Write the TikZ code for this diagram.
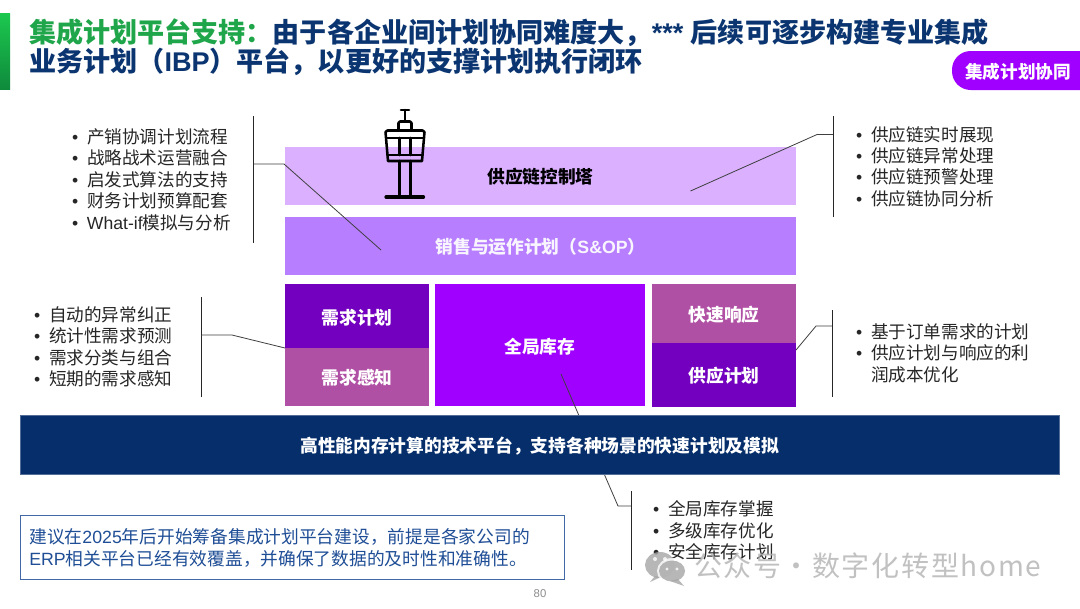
\documentclass[tikz,border=0pt]{standalone}
\usepackage{fontspec}
\setmainfont{Liberation Sans}
\newfontfamily\cjk{Noto Sans CJK SC}
\newfontfamily\lat{Liberation Sans}
\definecolor{navy}{HTML}{062E6B}
\definecolor{titleblue}{HTML}{0B3570}
\definecolor{titlegreen}{HTML}{20A64A}
\definecolor{barhigh}{HTML}{1CC84F}
\definecolor{barlow}{HTML}{0F8A3C}
\definecolor{towerpale}{HTML}{DAB0FF}
\definecolor{sopviolet}{HTML}{B77FFF}
\definecolor{deeppurple}{HTML}{7300BF}
\definecolor{orchid}{HTML}{B050A5}
\definecolor{vivid}{HTML}{A000FF}
\definecolor{noteblue}{HTML}{1F4E96}
\definecolor{inkgrey}{HTML}{262626}
\newcommand\bl[1]{\makebox[11.25pt][l]{\lat\textbullet}#1}
\newcommand\nudge[2][0.8pt]{\raisebox{-#1}[0.88em][0.12em]{#2}}
\tikzset{
  wh/.style 2 args={minimum width=#1*0.75pt,minimum height=#2*0.75pt},
  block/.style={rectangle,inner sep=0pt,outer sep=0pt,text=white,font=\cjk\bfseries\fontsize{13.3}{16}\selectfont},
  listing/.style={anchor=west,inner sep=0pt,outer sep=0pt,align=left,text=inkgrey,font=\cjk\fontsize{13.2}{16.1}\selectfont},
  bracket/.style={draw=black!85,line width=0.75pt},
  leader/.style={draw=black!75,line width=0.6pt},
  towerline/.style={draw=black,line width=1.9pt,line cap=round,line join=round},
}
\begin{document}
\begin{tikzpicture}[x=0.75pt,y=-0.75pt]
\useasboundingbox (0,0) rectangle (1080,608);
\fill[white] (0,0) rectangle (1080,608);

% title
\shade[top color=barhigh,bottom color=barlow] (0,13) rectangle (10,89);
\node[anchor=west,inner sep=0pt,align=left,text=titleblue,font=\cjk\bfseries\fontsize{20.3}{22}\selectfont] (title) at (29,47.5)
  {{\color{titlegreen}集成计划平台支持：}由于各企业间计划协同难度大，{\lat *** }后续可逐步构建专业集成\\业务计划（{\lat IBP}）平台，以更好的支撑计划执行闭环};
\fill[vivid,rounded corners=14pt] (952,51) rectangle (1120,90);
\node[text=white,inner sep=0pt,font=\cjk\bfseries\fontsize{13.2}{16}\selectfont] (tag) at (1018,72) {集成计划协同};

% stacked blocks
\node[block,fill=towerpale,text=black,wh={511}{58}] (tower) at (540.5,176) {\nudge{供应链控制塔}};
\node[block,fill=sopviolet,text=white!92!sopviolet,wh={511}{58}] (sop) at (540.5,246) {\nudge{销售与运作计划（{\lat S\&OP}）}};
\node[block,fill=deeppurple,wh={144}{64}] (demand) at (357,316) {\nudge[1.5pt]{需求计划}};
\node[block,fill=orchid,wh={144}{58}] (sense) at (357,377) {\nudge{需求感知}};
\node[block,fill=vivid,wh={209.5}{122}] (stock) at (539.8,345) {\nudge[1.5pt]{全局库存}};
\node[block,fill=orchid,wh={144}{59}] (quick) at (724,313.5) {\nudge{快速响应}};
\node[block,fill=deeppurple,wh={144}{64}] (supply) at (724,375) {\nudge{供应计划}};

% tower icon
\begin{scope}[towerline]
  \draw (401,110) -- (409,110) (405,110) -- (405,121);
  \draw (398.5,130) -- (398.5,123) -- (400,121.5) -- (410,121.5) -- (411.5,123) -- (411.5,130);
  \draw (388,161) -- (385.5,132) -- (387.5,130.5) -- (422.5,130.5) -- (424.5,132) -- (422,161) -- cycle;
  \draw (387,138) -- (423,138) (387.5,155) -- (422.5,155);
  \draw (399.5,138) -- (399.5,155) (410.5,138) -- (410.5,155);
  \draw (399.5,161) -- (399.5,197) (410.5,161) -- (410.5,197);
  \draw[line width=2.4pt] (386,197) -- (423.5,197);
\end{scope}

% brackets and leaders
\coordinate (b1t) at (253.5,116); \coordinate (b1b) at (253.5,243);
\coordinate (b1k) at (284,164); \coordinate (b1j) at (253.5,164); \coordinate (b1e) at (381,250);
\draw[bracket] (b1t) -- (b1b);
\draw[leader] (b1j) -- (b1k) -- (b1e);

\coordinate (b2t) at (833,116); \coordinate (b2b) at (833,217);
\coordinate (b2j) at (833,134.5); \coordinate (b2k) at (817,134.5); \coordinate (b2e) at (690.5,191);
\draw[bracket] (b2t) -- (b2b);
\draw[leader] (b2j) -- (b2k) -- (b2e);

\coordinate (b3t) at (201,297); \coordinate (b3b) at (201,397);
\coordinate (b3j) at (201,335); \coordinate (b3k) at (232,335);
\draw[bracket] (b3t) -- (b3b);
\draw[leader] (b3j) -- (b3k) -- (demand.south west);

\coordinate (b4t) at (832,310); \coordinate (b4b) at (832,397);
\coordinate (b4j) at (832,326); \coordinate (b4k) at (816,326); \coordinate (b4e) at (796,350);
\draw[bracket] (b4t) -- (b4b);
\draw[leader] (b4j) -- (b4k) -- (b4e);

\coordinate (b5t) at (631,491); \coordinate (b5b) at (631,570);
\coordinate (b5j) at (631,506); \coordinate (b5k) at (618,506); \coordinate (b5e) at (561,374);
\draw[bracket] (b5t) -- (b5b);
\draw[leader] (b5j) -- (b5k) -- (b5e);

% platform bar
\node[block,fill=navy,draw=navy!70!white,line width=0.6pt,wh={1039}{58.5}] (platform) at (539.7,444.7) {\nudge{高性能内存计算的技术平台，支持各种场景的快速计划及模拟}};

% bullet lists
\node[listing] (l1) at (72,179.5) {\bl{产销协调计划流程}\\\bl{战略战术运营融合}\\\bl{启发式算法的支持}\\\bl{财务计划预算配套}\\\bl{{\lat What-if}模拟与分析}};
\node[listing] (l2) at (856,166.5) {\bl{供应链实时展现}\\\bl{供应链异常处理}\\\bl{供应链预警处理}\\\bl{供应链协同分析}};
\node[listing] (l3) at (34,347) {\bl{自动的异常纠正}\\\bl{统计性需求预测}\\\bl{需求分类与组合}\\\bl{短期的需求感知}};
\node[listing] (l4) at (856,353) {\bl{基于订单需求的计划}\\\bl{供应计划与响应的利}\\\hspace*{11.25pt}润成本优化};
\node[listing] (l5) at (653,530.5) {\bl{全局库存掌握}\\\bl{多级库存优化}\\\bl{安全库存计划}};

% note
\node[rectangle,draw=noteblue!85!white,line width=0.75pt,inner sep=0pt,wh={544.5}{64.5}] (notebox) at (292.3,547.7) {};
\node[anchor=west,inner sep=0pt,align=left,text=noteblue,font=\cjk\fontsize{13.3}{16.1}\selectfont] (note) at (29,548)
  {建议在{\lat 2025}年后开始筹备集成计划平台建设，前提是各家公司的\\{\lat ERP}相关平台已经有效覆盖，并确保了数据的及时性和准确性。};
\node[inner sep=0pt,text=black!45,font=\lat\fontsize{8.5}{10}\selectfont] (page) at (540,593.5) {80};

% watermark
\begin{scope}[opacity=0.8]
  \fill[black!35] (660,565) ellipse[x radius=15,y radius=13];
  \fill[black!35] (655,576) -- (650,582) -- (661,577) -- cycle;
  \fill[white] (672,571) ellipse[x radius=15,y radius=13];
  \fill[black!35] (672,571) ellipse[x radius=13,y radius=10.5];
  \fill[black!35] (678,579) -- (684,586) -- (670,581) -- cycle;
  \fill[white] (655,559) circle[radius=2] (665,559) circle[radius=2] (667,569) circle[radius=1.7] (677,569) circle[radius=1.7];
  \node[anchor=west,inner sep=0pt,text=black!30,font=\cjk\fontsize{21}{24}\selectfont\addfontfeature{LetterSpace=6}] (mark) at (694,566) {公众号\hspace{1pt}·\hspace{1pt}数字化转型home};
\end{scope}
\end{tikzpicture}
\end{document}
